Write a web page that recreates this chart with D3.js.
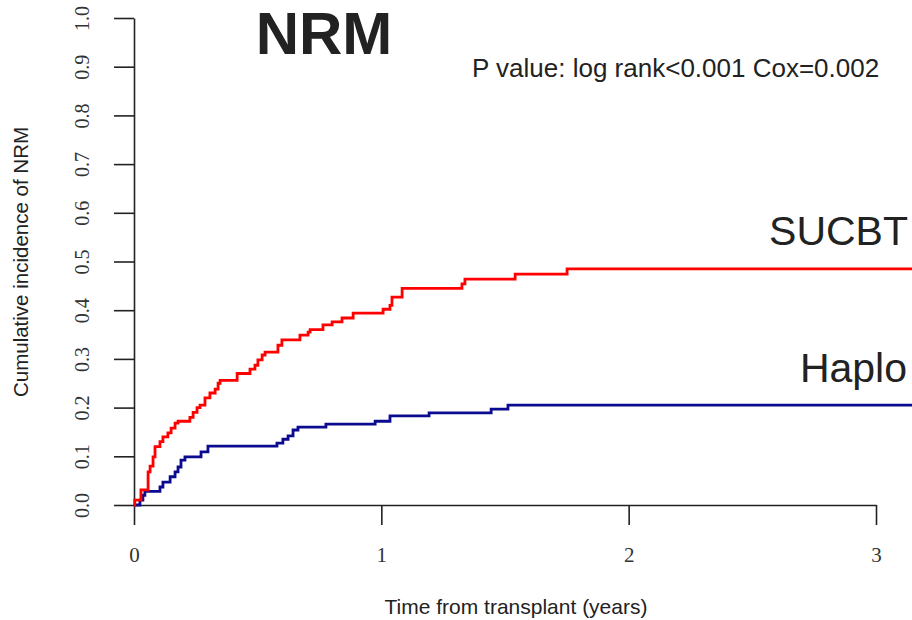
<!DOCTYPE html>
<html>
<head>
    <meta charset="UTF-8">
    <style>
        body { margin: 0; background: #fff; }
        .tick-lab { font-family: "Liberation Serif", "DejaVu Serif", serif; font-size: 21px; fill: #333; }
        .lab { font-family: "Liberation Sans", Arial, sans-serif; fill: #222; }
    </style>
    <script src="https://d3js.org/d3.v7.min.js"></script>
    <title>NRM</title>
</head>
<body>
    <svg width="912" height="620"></svg>
    <script>
        // cumulative incidence, step times (years) and values
        var sucbtTimes  = [0, 0.003, 0.028, 0.057, 0.065, 0.077, 0.085, 0.105, 0.117, 0.137, 0.150, 0.166, 0.178,
                           0.226, 0.239, 0.255, 0.267, 0.287, 0.307, 0.328, 0.340, 0.348, 0.417, 0.469, 0.489,
                           0.501, 0.518, 0.530, 0.582, 0.598, 0.671, 0.704, 0.712, 0.764, 0.801, 0.841, 0.886,
                           1.007, 1.035, 1.043, 1.084, 1.326, 1.338, 1.541, 1.751, 3.2];
        var sucbtValues = [0, 0.010, 0.031, 0.068, 0.080, 0.099, 0.120, 0.130, 0.140, 0.148, 0.158, 0.168, 0.172,
                           0.180, 0.190, 0.200, 0.205, 0.220, 0.230, 0.238, 0.250, 0.256, 0.270, 0.279, 0.287,
                           0.298, 0.308, 0.314, 0.328, 0.339, 0.349, 0.355, 0.360, 0.370, 0.376, 0.384, 0.394,
                           0.402, 0.410, 0.427, 0.445, 0.454, 0.464, 0.474, 0.485, 0.485];
        var haploTimes  = [0, 0.024, 0.036, 0.044, 0.105, 0.117, 0.146, 0.166, 0.178, 0.190, 0.206, 0.271, 0.299,
                           0.578, 0.602, 0.623, 0.643, 0.663, 0.776, 0.975, 1.035, 1.193, 1.444, 1.512, 3.2];
        var haploValues = [0, 0.010, 0.020, 0.028, 0.037, 0.047, 0.058, 0.068, 0.078, 0.092, 0.099, 0.109, 0.121,
                           0.127, 0.135, 0.142, 0.154, 0.160, 0.166, 0.172, 0.183, 0.189, 0.197, 0.205, 0.205];
        var xTicks = [0, 1, 2, 3];
        var yTicks = [0, 0.1, 0.2, 0.3, 0.4, 0.5, 0.6, 0.7, 0.8, 0.9, 1.0];

        var svg = d3.select("svg");

        var x = d3.scaleLinear().domain([0, 3]).range([134, 876]),
            y = d3.scaleLinear().domain([0, 1]).range([505, 18]);

        // axes (R style: ticks outward, no outer ticks)
        var gx = svg.append("g")
            .attr("transform", "translate(0,505)")
            .call(d3.axisBottom(x).tickValues(xTicks).tickSize(20).tickSizeOuter(0).tickFormat(d3.format("d")));
        gx.selectAll("text")
            .attr("class", "tick-lab")
            .attr("y", 57).attr("dy", 0)
            .attr("fill", null);

        var gy = svg.append("g")
            .attr("transform", "translate(134,0)")
            .call(d3.axisLeft(y).tickValues(yTicks).tickSize(20).tickSizeOuter(0).tickFormat(d3.format(".1f")));
        gy.selectAll("text")
            .attr("class", "tick-lab")
            .style("font-size", "20px")
            .attr("transform", "rotate(-90)")
            .attr("text-anchor", "middle")
            .attr("x", 0).attr("y", -45).attr("dy", 0)
            .attr("fill", null);

        svg.selectAll(".domain, .tick line")
            .attr("stroke", "#222")
            .attr("stroke-width", 1.6);
        svg.selectAll("g").attr("font-family", null).attr("font-size", null);

        // curves
        var line = d3.line()
            .x(function(d) { return x(d[0]); })
            .y(function(d) { return y(d[1]); })
            .curve(d3.curveStepAfter);

        svg.append("path")
            .datum(haploTimes.map(function(t, i) { return [t, haploValues[i]]; }))
            .attr("fill", "none")
            .attr("stroke", "#0b0b8f")
            .attr("stroke-width", 2.8)
            .attr("d", line);

        svg.append("path")
            .datum(sucbtTimes.map(function(t, i) { return [t, sucbtValues[i]]; }))
            .attr("fill", "none")
            .attr("stroke", "#ff0000")
            .attr("stroke-width", 2.8)
            .attr("d", line);

        // texts
        svg.append("text").attr("class", "lab")
            .attr("x", 324).attr("y", 54)
            .attr("text-anchor", "middle")
            .attr("font-size", "60px").attr("font-weight", "bold").attr("fill", "#000")
            .text("NRM");

        svg.append("text").attr("class", "lab")
            .attr("x", 472).attr("y", 77)
            .attr("font-size", "26px")
            .text("P value: log rank<0.001 Cox=0.002");

        svg.append("text").attr("class", "lab")
            .attr("x", 908).attr("y", 245)
            .attr("text-anchor", "end")
            .attr("font-size", "41px").attr("fill", "#000")
            .text("SUCBT");

        svg.append("text").attr("class", "lab")
            .attr("x", 907).attr("y", 382)
            .attr("text-anchor", "end")
            .attr("font-size", "41px").attr("fill", "#000")
            .text("Haplo");

        svg.append("text").attr("class", "lab")
            .attr("transform", "translate(28,262) rotate(-90)")
            .attr("text-anchor", "middle")
            .attr("font-size", "20.5px")
            .text("Cumulative incidence of NRM");

        svg.append("text").attr("class", "lab")
            .attr("x", 516).attr("y", 614)
            .attr("text-anchor", "middle")
            .attr("font-size", "21px")
            .text("Time from transplant (years)");
    </script>
</body>
</html>
